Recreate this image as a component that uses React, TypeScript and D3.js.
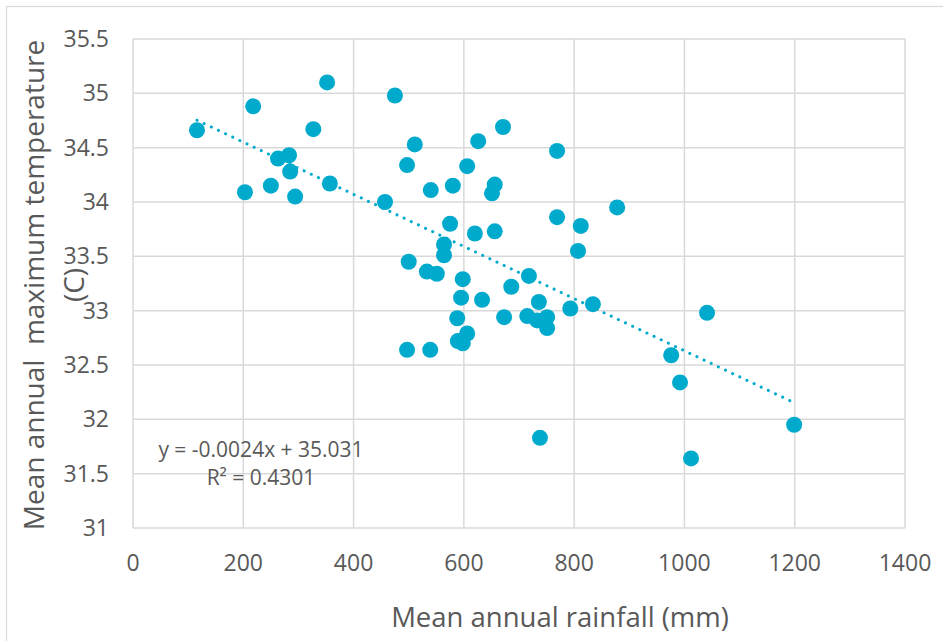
import React, { useRef, useEffect } from 'react';
import * as d3 from 'd3';

// rainfall (mm) and mean annual max temperature (C)
const rainfall = [
  116, 218, 203, 250, 263, 283, 285, 294, 327, 352,
  357, 475, 457, 497, 511, 540, 580, 606, 626, 671,
  769, 656, 651, 878, 769, 812, 575, 620, 656, 807,
  564, 564, 500, 533, 551, 598, 718, 686, 595, 633,
  736, 793, 834, 588, 673, 715, 733, 751, 751, 606,
  589, 598, 497, 539, 738, 976, 992, 1199, 1012, 1041,
];
const temperature = [
  34.66, 34.88, 34.09, 34.15, 34.40, 34.43, 34.28, 34.05, 34.67, 35.10,
  34.17, 34.98, 34.00, 34.34, 34.53, 34.11, 34.15, 34.33, 34.56, 34.69,
  34.47, 34.16, 34.08, 33.95, 33.86, 33.78, 33.80, 33.71, 33.73, 33.55,
  33.61, 33.51, 33.45, 33.36, 33.34, 33.29, 33.32, 33.22, 33.12, 33.10,
  33.08, 33.02, 33.06, 32.93, 32.94, 32.95, 32.91, 32.94, 32.84, 32.79,
  32.72, 32.70, 32.64, 32.64, 31.83, 32.59, 32.34, 31.95, 31.64, 32.98,
];
const xTicks = [0, 200, 400, 600, 800, 1000, 1200, 1400];
const yTicks = [31, 31.5, 32, 32.5, 33, 33.5, 34, 34.5, 35, 35.5];
const trendSlope = -0.0024;
const trendIntercept = 35.031;
const trendLabel = 'y = -0.0024x + 35.031';
const r2Label = 'R² = 0.4301';

const App = () => {
  const svgRef = useRef<SVGSVGElement>(null);

  useEffect(() => {
    const svg = d3.select(svgRef.current);
    svg.selectAll('*').remove();

    const width = 943;
    const height = 641;
    const margin = { top: 39, right: 38, bottom: 113, left: 133 };
    const font = '"Open Sans", "DejaVu Sans", sans-serif';
    const textColor = '#595959';
    const gridColor = '#d9d9d9';
    const dotColor = '#00aacd';

    // outer chart frame
    svg.append('rect')
      .attr('x', 6.5).attr('y', 6.5)
      .attr('width', width).attr('height', height)
      .attr('fill', 'none')
      .attr('stroke', gridColor)
      .attr('stroke-width', 1.2);

    const x = d3.scaleLinear().domain([0, 1400]).range([margin.left, width - margin.right]);
    const y = d3.scaleLinear().domain([31, 35.5]).range([height - margin.bottom, margin.top]);

    // gridlines
    svg.append('g')
      .selectAll('line')
      .data(xTicks)
      .enter()
      .append('line')
      .attr('x1', d => x(d)).attr('x2', d => x(d))
      .attr('y1', y(31)).attr('y2', y(35.5))
      .attr('stroke', gridColor)
      .attr('stroke-width', 1.5);

    svg.append('g')
      .selectAll('line')
      .data(yTicks)
      .enter()
      .append('line')
      .attr('x1', x(0)).attr('x2', x(1400))
      .attr('y1', d => y(d)).attr('y2', d => y(d))
      .attr('stroke', gridColor)
      .attr('stroke-width', 1.5);

    // tick labels
    svg.append('g')
      .selectAll('text')
      .data(xTicks)
      .enter()
      .append('text')
      .attr('x', d => x(d))
      .attr('y', 571)
      .attr('text-anchor', 'middle')
      .attr('font-family', font)
      .attr('font-size', 23)
      .attr('fill', textColor)
      .text(d => d);

    svg.append('g')
      .selectAll('text')
      .data(yTicks)
      .enter()
      .append('text')
      .attr('x', 109)
      .attr('y', d => y(d) + 8)
      .attr('text-anchor', 'end')
      .attr('font-family', font)
      .attr('font-size', 23)
      .attr('fill', textColor)
      .text(d => d);

    // points
    const points = rainfall.map((r, i) => ({ r, t: temperature[i] }));
    svg.append('g')
      .selectAll('circle')
      .data(points)
      .enter()
      .append('circle')
      .attr('cx', d => x(d.r))
      .attr('cy', d => y(d.t))
      .attr('r', 8)
      .attr('fill', dotColor);

    // dotted linear trendline over the data range
    const [xMin, xMax] = d3.extent(rainfall) as [number, number];
    svg.append('line')
      .attr('x1', x(xMin)).attr('y1', y(trendSlope * xMin + trendIntercept))
      .attr('x2', x(xMax)).attr('y2', y(trendSlope * xMax + trendIntercept))
      .attr('stroke', dotColor)
      .attr('stroke-width', 3)
      .attr('stroke-linecap', 'round')
      .attr('stroke-dasharray', '0.1 7.8');

    // trendline label
    svg.append('text')
      .attr('x', 261).attr('y', 457)
      .attr('text-anchor', 'middle')
      .attr('font-family', font)
      .attr('font-size', 21)
      .attr('fill', textColor)
      .text(trendLabel);
    svg.append('text')
      .attr('x', 261).attr('y', 485)
      .attr('text-anchor', 'middle')
      .attr('font-family', font)
      .attr('font-size', 21)
      .attr('fill', textColor)
      .text(r2Label);

    // axis titles
    svg.append('text')
      .attr('x', 560).attr('y', 627)
      .attr('text-anchor', 'middle')
      .attr('font-family', font)
      .attr('font-size', 27.5)
      .attr('fill', textColor)
      .text('Mean annual rainfall (mm)');

    const yTitle = svg.append('text')
      .attr('transform', 'translate(0,285) rotate(-90)')
      .attr('text-anchor', 'middle')
      .attr('font-family', font)
      .attr('font-size', 28)
      .attr('fill', textColor)
      .style('white-space', 'pre');
    yTitle.append('tspan').attr('x', 0).attr('y', 44).text('Mean annual  maximum temperature');
    yTitle.append('tspan').attr('x', 0).attr('y', 84).text('(C)');
  }, []);

  return (
    <svg
      ref={svgRef}
      width={943}
      height={641}
      style={{ position: 'absolute', left: 0, top: 0, background: '#fff' }}
    />
  );
};

export default App;
